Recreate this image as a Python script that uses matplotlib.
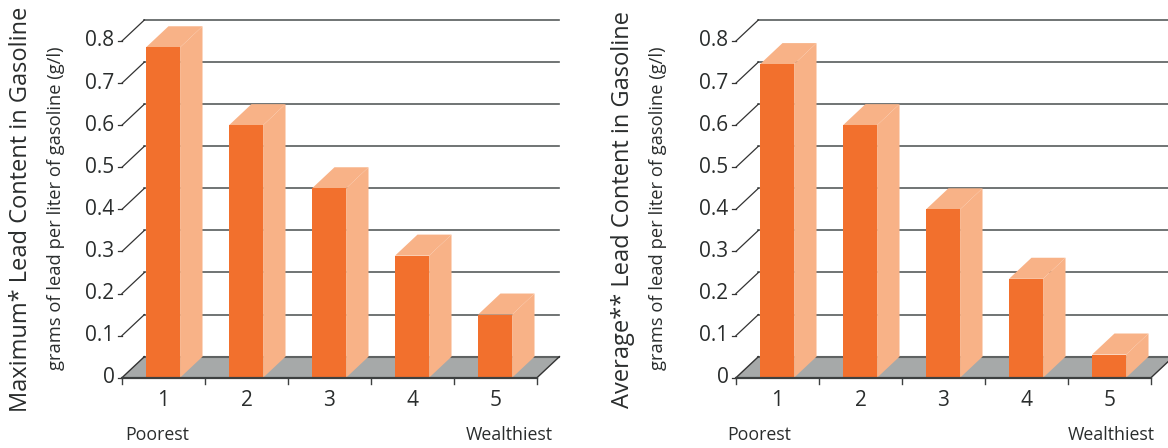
import matplotlib
matplotlib.use("Agg")
import matplotlib.pyplot as plt

plt.rcParams['font.family'] = ['Open Sans', 'DejaVu Sans']

# quintiles of countries by income
categories = ['1', '2', '3', '4', '5']
max_lead = [0.785, 0.60, 0.45, 0.29, 0.15]
avg_lead = [0.745, 0.60, 0.40, 0.235, 0.055]
y_ticks = [0, 0.1, 0.2, 0.3, 0.4, 0.5, 0.6, 0.7, 0.8]
y_labels = ['0', '0.1', '0.2', '0.3', '0.4', '0.5', '0.6', '0.7', '0.8']

FRONT = '#f2702d'
SIDE = '#f8b287'
FLOOR = '#a6a9a9'
EDGE = '#5f6363'
GRID = '#585c5c'
TEXT = '#2a2d2d'

# depth of the fake 3D box (x in category units, y in value units)
DX, DY = 0.27, 0.05
BAR_L, BAR_R = 0.29, 0.70

W, H = 1168, 448
fig = plt.figure(figsize=(W / 100, H / 100), dpi=100)


def panel(left_px, values, title, poor_x, wealth_x, title_x, sub_x):
    n = len(values)
    ax = fig.add_axes([left_px / W, (H - 377.7) / H, 83 * n / W, (377.7 - 41) / H])
    ax.set_xlim(0, n)
    ax.set_ylim(0, 0.8)
    ax.axis('off')
    kw = dict(clip_on=False)

    # back wall gridlines and the slanted ticks joining them to the value axis
    for t, lab in zip(y_ticks, y_labels):
        if t > 0:
            ax.plot([DX, n + DX], [t + DY, t + DY], color=GRID, lw=1.2, zorder=1, **kw)
            ax.plot([0, DX], [t, t + DY], color='#333', lw=0.9, zorder=1, **kw)
        ax.plot([-0.05, 0], [t, t], color='#333', lw=0.9, zorder=1, **kw)
        ax.text(-0.09, t, lab, ha='right', va='center', fontsize=15, color=TEXT, **kw)

    # floor
    ax.fill([0, n, n + DX, DX], [0, 0, DY, DY], color=FLOOR, lw=0, zorder=2, **kw)
    ax.plot([DX, n + DX], [DY, DY], color=EDGE, lw=1.5, zorder=2, **kw)
    ax.plot([0, DX], [0, DY], color='#333', lw=1.0, zorder=2, **kw)
    ax.plot([n, n + DX], [0, DY], color='#333', lw=1.0, zorder=2, **kw)
    ax.plot([0, n], [0, 0], color='#3d4040', lw=1.6, zorder=5, **kw)
    for k in range(n + 1):
        ax.plot([k, k], [0, -0.016], color='#3d4040', lw=1.0, zorder=5, **kw)

    # bars: side, top, front
    for i, v in enumerate(values):
        l, r = i + BAR_L, i + BAR_R
        ax.fill([r, r + DX, r + DX, r], [0, DY, v + DY, v], color=SIDE, lw=0, zorder=3, **kw)
        ax.fill([l, r, r + DX, l + DX], [v, v, v + DY, v + DY], color=SIDE, lw=0, zorder=3, **kw)
        ax.fill([l, r, r, l], [0, 0, v, v], color=FRONT, lw=0, zorder=4, **kw)
        ax.text(i + 0.5, -0.053, categories[i], ha='center', va='center',
                fontsize=15, color=TEXT, **kw)

    ax.text(poor_x, -0.136, 'Poorest', ha='left', va='center', fontsize=12.8, color=TEXT, **kw)
    ax.text(wealth_x, -0.136, 'Wealthiest', ha='right', va='center', fontsize=12.8, color=TEXT, **kw)

    fig.text(title_x / W, 1 - 209 / H, title, rotation=90, ha='center', va='center',
             fontsize=17, color=TEXT)
    fig.text(sub_x / W, 1 - 208 / H, 'grams of lead per liter of gasoline (g/l)', rotation=90,
             ha='center', va='center', fontsize=13.2, color=TEXT)


panel(122, max_lead, 'Maximum* Lead Content in Gasoline', 0.04, 5.19, 21, 56)
panel(736, avg_lead, 'Average** Lead Content in Gasoline', -0.1, 5.04, 623, 658)

fig.savefig('out.png', dpi=100, facecolor='white')
